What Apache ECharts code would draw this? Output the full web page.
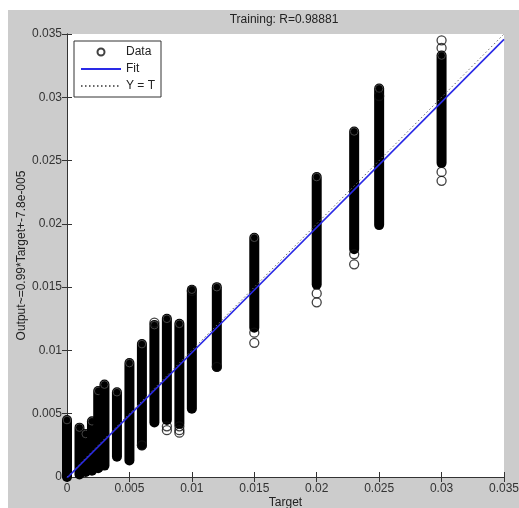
<!DOCTYPE html>
<html>
<head>
<meta charset="utf-8">
<script src="https://cdn.jsdelivr.net/npm/echarts@6/dist/echarts.min.js"></script>
<style>
html,body{margin:0;padding:0;background:#fff;}
#chart{width:519px;height:508px;}
</style>
</head>
<body>
<div id="chart"></div>
<script>
// Column targets with the solid range of outputs (dense overlapping circles)
const colTargets = [0, 0.001, 0.0015, 0.002, 0.0025, 0.003, 0.004, 0.005, 0.006, 0.007, 0.008, 0.009, 0.01, 0.012, 0.015, 0.02, 0.023, 0.025, 0.03];
const colLows    = [0.0000, 0.0002, 0.0004, 0.0005, 0.0007, 0.0009, 0.0016, 0.0013, 0.0025, 0.0043, 0.0045, 0.0042, 0.0054, 0.0087, 0.0118, 0.0152, 0.0180, 0.0199, 0.0248];
const colHighs   = [0.0045, 0.0039, 0.0034, 0.0044, 0.0068, 0.0073, 0.0067, 0.0090, 0.0105, 0.0120, 0.0125, 0.0121, 0.0148, 0.0150, 0.0189, 0.0237, 0.0273, 0.0307, 0.0333];
// Individual visible circles
const ptTargets = [0.008, 0.008, 0.009, 0.009, 0.009, 0.006, 0.015, 0.015, 0.02, 0.02, 0.023, 0.023, 0.025, 0.03, 0.03, 0.03, 0.03, 0.03, 0.012, 0.007, 0.01];
const ptOutputs = [0.0040, 0.0037, 0.0040, 0.0037, 0.0035, 0.0025, 0.0114, 0.0106, 0.0145, 0.0138, 0.0176, 0.0168, 0.0301, 0.0339, 0.0345, 0.0351, 0.0241, 0.0234, 0.0087, 0.0122, 0.0147];
// Lines
const fitX = [0, 0.035];
const fitY = [-0.000078, 0.034572];
const idX = [0, 0.035];
const idY = [0, 0.035];
const ticks = [0, 0.005, 0.01, 0.015, 0.02, 0.025, 0.03, 0.035];

const chart = echarts.init(document.getElementById('chart'));
const fmt = v => String(+(+v).toFixed(4));
const FONT = 'Liberation Sans';
const axCol = '#333';

const colData = colTargets.map((t, i) => [t, colLows[i], colHighs[i]]);
const ptData = ptTargets.map((t, i) => [t, ptOutputs[i]]);
const noSym = {color: 'rgba(0,0,0,0)', borderWidth: 0, opacity: 0};

const option = {
  backgroundColor: '#fff',
  animation: false,
  textStyle: {fontFamily: FONT},
  graphic: [{
    type: 'rect', z: -10, silent: true,
    shape: {x: 8, y: 10, width: 511, height: 498},
    style: {fill: '#cccccc'}
  }, {
    type: 'rect', z: -9, silent: true,
    shape: {x: 67, y: 34, width: 437, height: 443},
    style: {fill: '#ffffff'}
  }],
  title: {
    text: 'Training: R=0.98881',
    left: 279, top: 9, textAlign: 'center',
    textStyle: {fontSize: 12, fontWeight: 'normal', color: '#222', fontFamily: FONT}
  },
  legend: {
    data: [
      {name: 'Data'},
      {name: 'Fit', itemStyle: noSym},
      {name: 'Y = T', itemStyle: noSym}
    ],
    orient: 'vertical',
    left: 74, top: 41,
    itemWidth: 40, itemHeight: 7, itemGap: 5,
    padding: [5, 6, 5, 6],
    backgroundColor: '#fff',
    borderColor: '#333', borderWidth: 1, borderRadius: 0,
    textStyle: {fontSize: 12, color: '#222', fontFamily: FONT},
    z: 10
  },
  grid: {left: 67, right: 15, top: 34, bottom: 31, containLabel: false, outerBoundsMode: 'none'},
  xAxis: [{
    type: 'value', min: 0, max: 0.035, interval: 0.005,
    name: 'Target', nameLocation: 'middle', nameGap: 20, nameMoveOverlap: false,
    nameTextStyle: {fontSize: 12, color: '#222', fontFamily: FONT},
    axisLine: {show: true, lineStyle: {color: axCol, width: 1}},
    axisTick: {show: true, inside: true, length: 5, lineStyle: {color: axCol}},
    axisLabel: {formatter: fmt, fontSize: 12, color: '#333', margin: 6, fontFamily: FONT},
    splitLine: {show: false}
  }, {
    type: 'value', min: 0, max: 0.035, interval: 0.005, position: 'top',
    axisLine: {show: true, lineStyle: {color: axCol, width: 1}},
    axisTick: {show: true, inside: true, length: 5, lineStyle: {color: axCol}},
    axisLabel: {show: false}, splitLine: {show: false}
  }],
  yAxis: [{
    type: 'value', min: 0, max: 0.035, interval: 0.005,
    name: 'Output~=0.99*Target+-7.8e-005', nameLocation: 'middle', nameGap: 39, nameMoveOverlap: false,
    nameTextStyle: {fontSize: 12, color: '#222', fontFamily: FONT},
    axisLine: {show: true, lineStyle: {color: axCol, width: 1}},
    axisTick: {show: true, inside: true, length: 5, lineStyle: {color: axCol}},
    axisLabel: {formatter: fmt, fontSize: 12, color: '#333', margin: 5, fontFamily: FONT},
    splitLine: {show: false}
  }, {
    type: 'value', min: 0, max: 0.035, interval: 0.005, position: 'right',
    axisLine: {show: true, lineStyle: {color: axCol, width: 1}},
    axisTick: {show: true, inside: true, length: 5, lineStyle: {color: axCol}},
    axisLabel: {show: false}, splitLine: {show: false}
  }],
  series: [{
    name: 'Columns',
    type: 'custom',
    xAxisIndex: 0, yAxisIndex: 0,
    data: colData,
    clip: false,
    encode: {x: 0, y: [1, 2]},
    renderItem: function (params, api) {
      const lo = api.coord([api.value(0), api.value(1)]);
      const hi = api.coord([api.value(0), api.value(2)]);
      const w = 10;
      return {
        type: 'group',
        children: [{
          type: 'rect',
          shape: {x: lo[0] - w / 2, y: hi[1] - w / 2, width: w, height: lo[1] - hi[1] + w, r: w / 2},
          style: {fill: '#000'}
        }, {
          type: 'circle',
          shape: {cx: hi[0], cy: hi[1], r: 3.8},
          style: {fill: '#000', stroke: '#444', lineWidth: 1}
        }]
      };
    },
    z: 2
  }, {
    name: 'Data',
    type: 'scatter',
    data: ptData,
    symbol: 'circle',
    symbolSize: 9,
    itemStyle: {color: 'rgba(255,255,255,0)', borderColor: '#111', borderWidth: 1.3},
    z: 3
  }, {
    name: 'Y = T',
    type: 'line',
    data: idX.map((x, i) => [x, idY[i]]),
    showSymbol: false, symbol: 'none',
    lineStyle: {color: '#666', width: 1, type: [1.5, 2.5]},
    itemStyle: {color: '#666'},
    z: 4
  }, {
    name: 'Fit',
    type: 'line',
    data: fitX.map((x, i) => [x, fitY[i]]),
    showSymbol: false, symbol: 'none',
    lineStyle: {color: '#2a2ae6', width: 1.6},
    itemStyle: {color: '#2a2ae6'},
    z: 5
  }]
};
chart.setOption(option);
</script>
</body>
</html>
